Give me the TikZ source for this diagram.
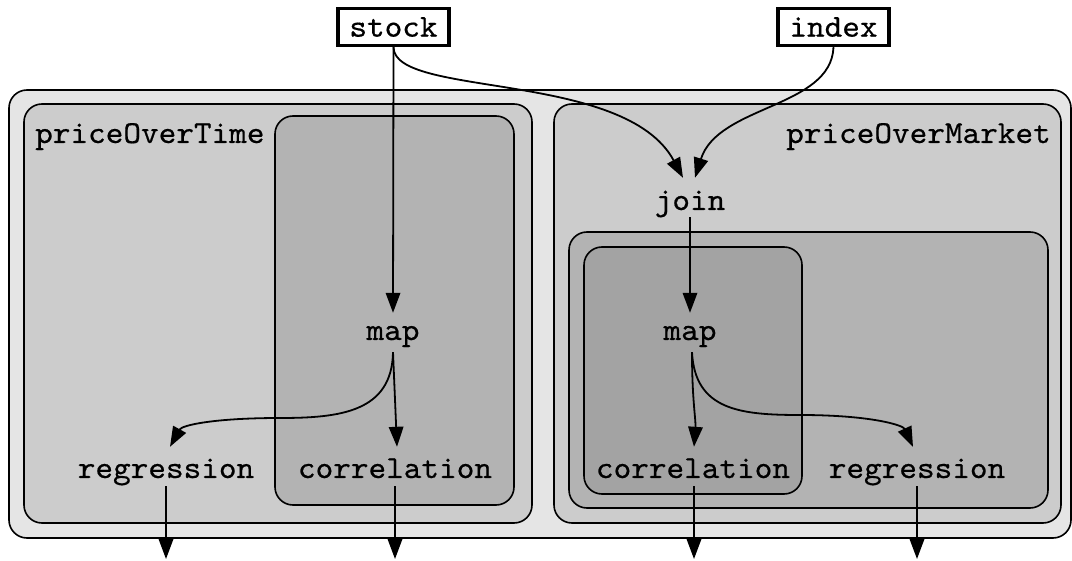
\documentclass[tikz,border=0pt]{standalone}
\usepackage{fontspec}
\setmonofont{lmmono10-regular.otf}[FakeStretch=1.05,FakeBold=0.5]
\usetikzlibrary{arrows.meta}
\definecolor{gA}{HTML}{E5E5E5}
\definecolor{gB}{HTML}{CCCCCC}
\definecolor{gC}{HTML}{B3B3B3}
\definecolor{gD}{HTML}{A3A3A3}
\begin{document}
\begin{tikzpicture}[x=1pt,y=-1pt,
  cluster/.style={draw=black,line width=1.6pt,rounded corners=18pt},
  lbl/.style={font=\ttfamily\fontsize{32}{34}\selectfont,inner sep=0pt},
  op/.style={lbl,anchor=base,text height=31pt,text depth=8pt},
  mapop/.style={lbl,anchor=base,text height=27pt,text depth=12pt},
  joinop/.style={lbl,anchor=base,text height=32pt,text depth=7pt},
  src/.style={lbl,draw=black,line width=3.4pt,minimum width=111pt,minimum height=37pt,fill=white},
  flow/.style={line width=1.8pt,-{Triangle[length=20pt,width=14.5pt]}}]
\useasboundingbox (0,0) rectangle (1072,561);
% clusters
\draw[cluster,fill=gA] (9,90) rectangle (1071,538);
\draw[cluster,fill=gB] (24,104) rectangle (532,523);
\draw[cluster,fill=gC] (275,116) rectangle (514,505);
\draw[cluster,fill=gB] (554,104) rectangle (1061,523);
\draw[cluster,fill=gC] (569,232) rectangle (1048,508);
\draw[cluster,fill=gD] (584,247) rectangle (802,494);
% labels
\node[lbl,anchor=base west] (pot) at (35,143) {priceOverTime};
\node[lbl,anchor=base east] (pom) at (1051,143) {priceOverMarket};
% sources
\node[src] (stock) at (393.5,27) {stock};
\node[src] (index) at (833.5,27) {index};
% operators
\node[joinop] (join) at (690,210) {join};
\node[mapop] (mapL) at (393,340) {map};
\node[mapop] (mapR) at (690,340) {map};
\node[op] (regL) at (166,478) {regression};
\node[op] (corL) at (395,478) {correlation};
\node[op] (corR) at (693,478) {correlation};
\node[op] (regR) at (917,478) {regression};
\coordinate (oRL) at (166,559);
\coordinate (oCL) at (395,559);
\coordinate (oCR) at (694,559);
\coordinate (oRR) at (917,559);
% connectors
\draw[flow] (stock.south) -- (mapL.north);
\draw[flow] (stock.south) .. controls (394,98) and (625,70) .. ([xshift=-7pt]join.north);
\draw[flow] (index.south) .. controls (831,108) and (718,105) .. ([xshift=5pt]join.north);
\draw[flow] (join.south) -- (mapR.north);
\draw[flow] (mapL.south) -- ([xshift=2pt]corL.north);
\draw[flow] (mapL.south) .. controls (392,412) and (340,418) .. (280,418)
  .. controls (215,418) and (182,425) .. ([xshift=4pt]regL.north);
\draw[flow] ([xshift=2pt]mapR.south) .. controls (692,400) and (696,420) .. ([xshift=1pt]corR.north);
\draw[flow] ([xshift=2pt]mapR.south) .. controls (695,410) and (740,415) .. (800,415)
  .. controls (870,415) and (903,425) .. ([xshift=-4pt]regR.north);
\draw[flow] (regL.south) -- (oRL);
\draw[flow] (corL.south) -- (oCL);
\draw[flow] ([xshift=1pt]corR.south) -- (oCR);
\draw[flow] (regR.south) -- (oRR);
\end{tikzpicture}
\end{document}
